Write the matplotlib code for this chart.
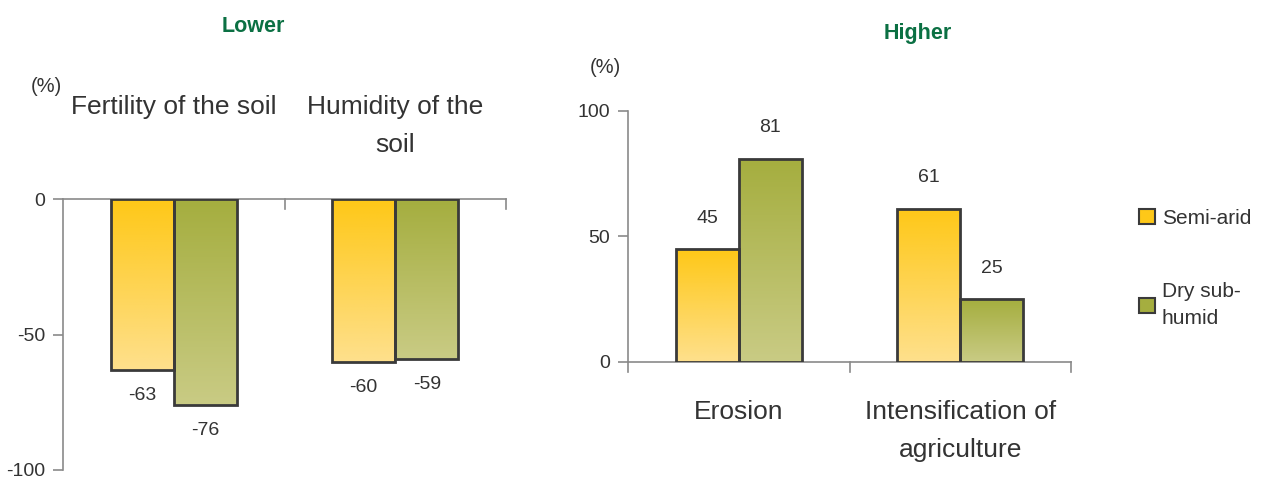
import matplotlib.pyplot as plt
import numpy as np
from matplotlib.colors import LinearSegmentedColormap
from matplotlib.patches import Patch

# data
lower_cats = ["Fertility of the soil", "Humidity of the\nsoil"]
lower_semi = [-63, -60]
lower_dry = [-76, -59]

higher_cats = ["Erosion", "Intensification of\nagriculture"]
higher_semi = [45, 61]
higher_dry = [81, 25]

series = ["Semi-arid", "Dry sub-\nhumid"]

# colours: (top, bottom) of the gradient
yellow = ("#fec818", "#fee08c")
green = ("#a5ae3f", "#c9cb84")
txt = "#333333"
spine_col = "#8a8a8a"
edge = "#3a3a3a"

plt.rcParams['font.family'] = ['Liberation Sans', 'DejaVu Sans']
plt.rcParams['axes.unicode_minus'] = False

fig = plt.figure(figsize=(12.67, 4.79), dpi=100)
ax1 = fig.add_axes([63/1267, 9/479, 443/1267, 271/479])
ax2 = fig.add_axes([628/1267, 117/479, 443/1267, 251/479])

bw = 0.285


def grad_bar(ax, x, val, cols):
    bar = ax.bar(x, val, width=bw, facecolor="none", edgecolor=edge, linewidth=2, zorder=3)[0]
    cmap = LinearSegmentedColormap.from_list("g", [cols[0], cols[1]])
    lo, hi = min(0, val), max(0, val)
    img = ax.imshow(np.linspace(0, 1, 100).reshape(-1, 1), cmap=cmap, aspect="auto",
                    extent=[x - bw/2, x + bw/2, lo, hi], origin="upper", zorder=2)
    img.set_clip_path(bar)
    return bar


def style(ax):
    for s in ["right", "top", "bottom", "left"]:
        ax.spines[s].set_visible(False)
    ax.spines["left"].set_visible(True)
    ax.spines["left"].set_color(spine_col)
    ax.spines["left"].set_linewidth(1.2)
    ax.axhline(0, color=spine_col, lw=1.2, zorder=1, clip_on=False)
    ax.set_xlim(0, 2)
    ax.tick_params(axis="y", colors=spine_col, labelcolor=txt, labelsize=14,
                   length=7, width=1.2, direction="out", pad=6)
    ax.set_xticks([])


# ---- lower (left) chart
style(ax1)
ax1.set_ylim(-100, 0)
ax1.set_yticks([0, -50, -100])
for i in range(2):
    grad_bar(ax1, i + 0.5 - bw/2, lower_semi[i], yellow)
    grad_bar(ax1, i + 0.5 + bw/2, lower_dry[i], green)
    for x, v in [(i + 0.5 - bw/2, lower_semi[i]), (i + 0.5 + bw/2, lower_dry[i])]:
        ax1.annotate(str(v), (x, v), xytext=(0, -26), textcoords="offset pixels",
                     ha="center", va="center", fontsize=14, color=txt)
    ax1.text(i + 0.5, 1 + 104/271, lower_cats[i], transform=ax1.get_xaxis_transform(),
             ha="center", va="top", fontsize=19, color=txt, linespacing=1.75)
for b in [1, 2]:
    ax1.plot([b, b], [0, -3.6], color=spine_col, lw=1.2, clip_on=False)
ax1.text(-0.077, 1 + 113/271, "(%)", transform=ax1.get_xaxis_transform(), ha="center",
         va="center", fontsize=14.5, color=txt)
ax1.text(0.86, 1 + 173/271, "Lower", transform=ax1.get_xaxis_transform(), ha="center",
         va="center", fontsize=15.5, fontweight="bold", color="#0b7043")

# ---- higher (right) chart
style(ax2)
ax2.set_ylim(0, 100)
ax2.set_yticks([0, 50, 100])
for i in range(2):
    grad_bar(ax2, i + 0.5 - bw/2, higher_semi[i], yellow)
    grad_bar(ax2, i + 0.5 + bw/2, higher_dry[i], green)
    for x, v in [(i + 0.5 - bw/2, higher_semi[i]), (i + 0.5 + bw/2, higher_dry[i])]:
        ax2.annotate(str(v), (x, v), xytext=(0, 31), textcoords="offset pixels",
                     ha="center", va="center", fontsize=14, color=txt)
    ax2.text(i + 0.5, -0.15, higher_cats[i], transform=ax2.get_xaxis_transform(),
             ha="center", va="top", fontsize=19, color=txt, linespacing=1.75)
for b in [0, 1, 2]:
    ax2.plot([b, b], [0, -4], color=spine_col, lw=1.2, clip_on=False)
ax2.text(-0.104, 1.175, "(%)", transform=ax2.get_xaxis_transform(), ha="center",
         va="center", fontsize=14.5, color=txt)
ax2.text(1.31, 1.31, "Higher", transform=ax2.get_xaxis_transform(), ha="center",
         va="center", fontsize=15.5, fontweight="bold", color="#0b7043")

# legend
handles = [Patch(facecolor=yellow[0], edgecolor=edge, linewidth=1.5),
           Patch(facecolor=green[0], edgecolor=edge, linewidth=1.5)]
leg = fig.legend(handles, series, loc="upper left", bbox_to_anchor=(1139/1267, 1 - 209/479),
                 frameon=False, fontsize=15, labelcolor=txt, handlelength=0.75,
                 handleheight=0.75, handletextpad=0.35, labelspacing=2.6,
                 borderaxespad=0, borderpad=0)
leg.get_texts()[1].set_linespacing(1.55)

fig.savefig("out.png", dpi=100)
